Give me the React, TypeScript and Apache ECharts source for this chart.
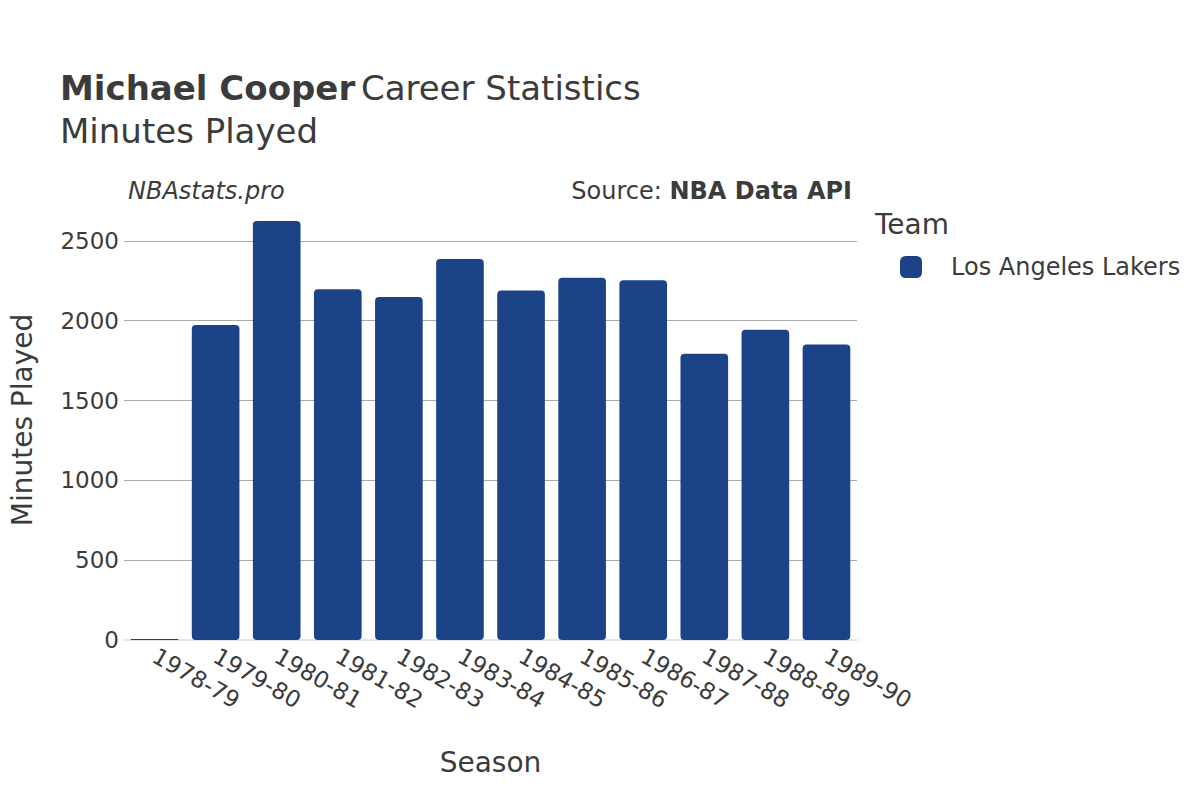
import React, { useEffect, useRef } from "react";
import * as echarts from "echarts";

const seasons = [
  "1978-79", "1979-80", "1980-81", "1981-82", "1982-83", "1983-84",
  "1984-85", "1985-86", "1986-87", "1987-88", "1988-89", "1989-90",
];
const minutesPlayed = [7, 1973, 2625, 2197, 2148, 2387, 2189, 2269, 2253, 1793, 1943, 1851];
const teamName = "Los Angeles Lakers";
const yMax = 2756;

const FONT = "DejaVu Sans";
const TEXT = "#3b3b3b";
const BAR = "#1c4388";

export default function App() {
  const ref = useRef<HTMLDivElement>(null);
  useEffect(() => {
    if (!ref.current) return;
    const chart = echarts.init(ref.current, null, { renderer: "svg" });
    chart.setOption({
      animation: false,
      backgroundColor: "#ffffff",
      textStyle: { fontFamily: FONT, color: TEXT },
      title: {
        left: 55,
        top: 66,
        text: "{b|Michael Cooper} {n|Career Statistics}",
        subtext: "Minutes Played",
        itemGap: 9,
        textStyle: {
          fontWeight: "normal",
          rich: {
            b: { fontFamily: FONT, fontSize: 34, fontWeight: "bold", color: TEXT },
            n: { fontFamily: FONT, fontSize: 34, fontWeight: "normal", color: TEXT },
          },
        },
        subtextStyle: { fontFamily: FONT, fontSize: 34, color: TEXT },
      },
      graphic: [
        {
          type: "text",
          left: 128,
          top: 179,
          style: { text: "NBAstats.pro", font: `italic 24px "${FONT}"`, fill: TEXT },
        },
        {
          type: "text",
          right: 348,
          top: 179,
          style: {
            text: "{n|Source: }{b|NBA Data API}",
            fill: TEXT,
            rich: {
              n: { fontFamily: FONT, fontSize: 24, color: TEXT },
              b: { fontFamily: FONT, fontSize: 24, fontWeight: "bold", color: TEXT },
            },
          },
        },
        {
          type: "text",
          left: 875,
          top: 210,
          style: { text: "Team", font: `28px "${FONT}"`, fill: TEXT },
        },
      ],
      legend: {
        left: 895,
        top: 250,
        orient: "vertical",
        icon: "roundRect",
        itemWidth: 22,
        itemHeight: 22,
        textStyle: { fontFamily: FONT, fontSize: 24, color: TEXT, padding: [0, 0, 0, 24] },
        data: [teamName],
      },
      grid: { left: 122, right: 343, top: 200, bottom: 160 },
      xAxis: {
        type: "category",
        data: seasons,
        name: "Season",
        nameLocation: "middle",
        nameGap: 108,
        nameTextStyle: { fontFamily: FONT, fontSize: 28, color: TEXT },
        axisTick: { show: false },
        axisLine: { show: true, lineStyle: { color: "#e6e6e6", width: 2 } },
        axisLabel: {
          rotate: -30,
          fontFamily: FONT,
          fontSize: 23,
          color: TEXT,
          margin: 14,
          interval: 0,
        },
      },
      yAxis: {
        type: "value",
        min: 0,
        max: yMax,
        interval: 500,
        name: "Minutes Played",
        nameLocation: "middle",
        nameGap: 88,
        nameTextStyle: { fontFamily: FONT, fontSize: 28, color: TEXT },
        axisLine: { show: false },
        axisTick: { show: false },
        axisLabel: {
          fontFamily: FONT,
          fontSize: 23,
          color: TEXT,
          margin: 5,
          showMaxLabel: false,
          formatter: (v: number) => (v % 500 === 0 ? String(v) : ""),
        },
        splitLine: {
          show: true,
          lineStyle: {
            color: ["transparent", "#aaaaaa", "#aaaaaa", "#aaaaaa", "#aaaaaa", "#aaaaaa", "transparent"],
            width: 1,
          },
        },
      },
      series: [
        {
          name: teamName,
          type: "bar",
          data: minutesPlayed,
          barWidth: "78%",
          itemStyle: { color: BAR, borderRadius: 4 },
        },
      ],
    });
    return () => chart.dispose();
  }, []);
  return <div ref={ref} style={{ width: 1200, height: 800, position: "absolute", left: 0, top: 0 }} />;
}
